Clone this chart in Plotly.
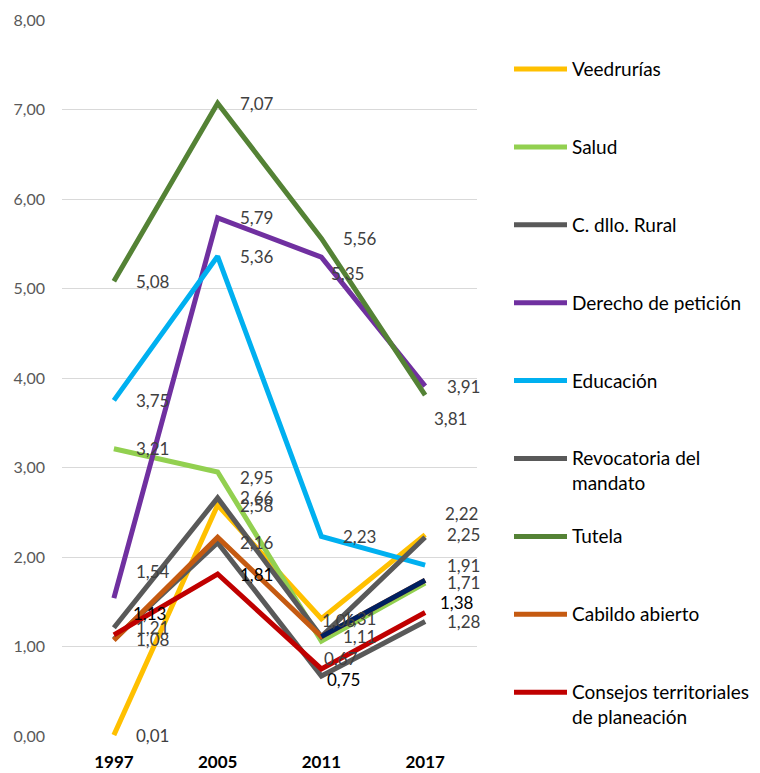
import plotly.graph_objects as go

# ---- data -------------------------------------------------------------
years = ["1997", "2005", "2011", "2017"]

veedurias = [0.01, 2.58, 1.31, 2.25]
salud = [3.21, 2.95, 1.06, 1.71]
dllo_rural = [1.08, 2.16, 0.67, 1.28]
derecho_peticion = [1.54, 5.79, 5.35, 3.91]
educacion = [3.75, 5.36, 2.23, 1.91]
revocatoria = [1.21, 2.66, 1.11, 2.22]
tutela = [5.08, 7.07, 5.56, 3.81]
cabildo = [1.07, 2.22, 1.11, 1.74]
consejos = [1.13, 1.81, 0.75, 1.38]

series_names = [
    "Veedrurías", "Salud", "C. dllo. Rural", "Derecho de petición", "Educación",
    "Revocatoria del mandato", "Tutela", "Cabildo abierto",
    "Consejos territoriales de planeación",
]
legend_text = [
    "Veedrurías", "Salud", "C. dllo. Rural", "Derecho de petición", "Educación",
    "Revocatoria del<br>mandato", "Tutela", "Cabildo abierto",
    "Consejos territoriales<br>de planeación",
]
series_values = [veedurias, salud, dllo_rural, derecho_peticion, educacion,
                 revocatoria, tutela, cabildo, consejos]

# ---- styling ----------------------------------------------------------
colors = ["#FFC000", "#92D050", "#595959", "#7030A0", "#00B0F0",
          "#595959", "#548235", "#C55A11", "#C00000"]
label_colors = ["#404040"] * 8 + ["#000000"]
show_labels = [True] * 7 + [False, True]
# last segment of "Cabildo abierto" is drawn in navy
cabildo_last_color = "#002060"

# per-label nudges (dx, dy) in pixels, dy positive = down
label_nudge = {
    (3, 0): (0, -27),
    (8, 0): (-3, -21),
    (1, 1): (0, 6),
    (3, 2): (-12, 16),
    (1, 2): (-21, -21),
    (2, 2): (-19, -18),
    (8, 2): (-16, 11),
    (6, 3): (-13, 23),
    (5, 3): (-2, -24),
    (8, 3): (-7, -10),
}

FONT = "Lato"
W, H = 760, 773
ML, MR, MT, MB = 62, 283, 20, 37
PW, PH = W - ML - MR, H - MT - MB


def fmt(v):
    return f"{v:.2f}".replace(".", ",")


fig = go.Figure()

for i, (name, vals) in enumerate(zip(series_names, series_values)):
    fig.add_trace(go.Scatter(
        x=years, y=vals, mode="lines", name=name, showlegend=False,
        line=dict(color=colors[i], width=5),
        hoverinfo="x+y+name",
    ))
    if name == "Cabildo abierto":
        fig.add_trace(go.Scatter(
            x=years[2:], y=vals[2:], mode="lines", showlegend=False,
            line=dict(color=cabildo_last_color, width=5),
            hoverinfo="skip",
        ))

# data labels (category axis: x given as category index)
annotations = []
for i, vals in enumerate(series_values):
    if not show_labels[i]:
        continue
    for j, v in enumerate(vals):
        dx, dy = label_nudge.get((i, j), (0, 0))
        annotations.append(dict(
            x=j, y=v, xref="x", yref="y", text=fmt(v),
            showarrow=False, xanchor="left", yanchor="middle",
            xshift=20 + dx, yshift=-dy,
            font=dict(family=FONT, size=17, color=label_colors[i]),
        ))

# legend drawn at the right of the plot
shapes = []
leg_top, leg_step = 69, 77.9
for i, txt in enumerate(legend_text):
    py = leg_top + i * leg_step
    yp = (H - MB - py) / PH
    shapes.append(dict(
        type="line", xref="paper", yref="paper",
        x0=(514 - ML) / PW, x1=(567 - ML) / PW, y0=yp, y1=yp,
        line=dict(color=colors[i], width=5),
    ))
    annotations.append(dict(
        x=(570 - ML) / PW, y=(H - MB - (py - 14)) / PH, xref="paper", yref="paper",
        text=txt, showarrow=False, xanchor="left", yanchor="top", align="left",
        font=dict(family=FONT, size=19, color="#000000"),
    ))

fig.update_layout(
    width=W, height=H,
    margin=dict(l=ML, r=MR, t=MT, b=MB),
    paper_bgcolor="white", plot_bgcolor="white",
    separators=",.",
    showlegend=False,
    annotations=annotations,
    shapes=shapes,
    xaxis=dict(
        type="category", range=[-0.5, 3.5], showgrid=False, zeroline=False,
        showline=False, ticks="", automargin=False,
        tickfont=dict(family=FONT, size=17, color="#000000", weight="bold"),
        ticklabelstandoff=14,
    ),
    yaxis=dict(
        range=[0, 8], dtick=1, tickformat=".2f", showgrid=True,
        gridcolor="#D9D9D9", gridwidth=1.3, zeroline=False, showline=False,
        ticks="", automargin=False,
        tickfont=dict(family=FONT, size=16, color="#595959"),
        ticklabelstandoff=16,
    ),
)

fig.write_html("out.html")
